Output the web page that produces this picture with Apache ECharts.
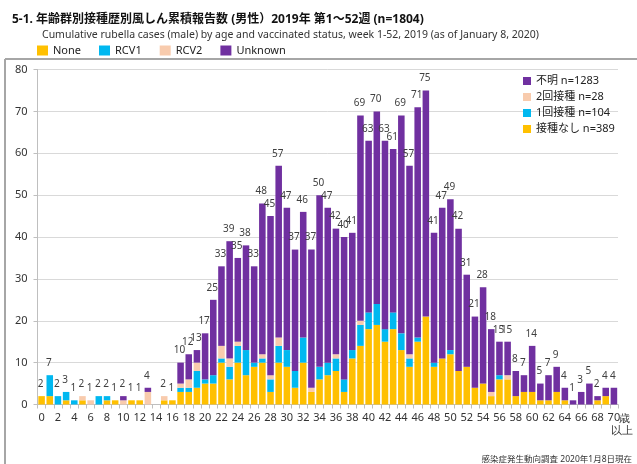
<!DOCTYPE html>
<html>
<head>
<meta charset="utf-8">
<script src="https://cdn.jsdelivr.net/npm/echarts@6/dist/echarts.min.js"></script>
<style>
html,body{margin:0;padding:0;background:#fff;}
#c{width:637px;height:464px;}
</style>
</head>
<body>
<div id="c"></div>
<script>
const ages = ['0','1','2','3','4','5','6','7','8','9','10','11','12','13','14','15','16','17','18','19',
  '20','21','22','23','24','25','26','27','28','29','30','31','32','33','34','35','36','37','38','39',
  '40','41','42','43','44','45','46','47','48','49','50','51','52','53','54','55','56','57','58','59',
  '60','61','62','63','64','65','66','67','68','69','70歳以上'];

const noneVals = [2,2,0,1,0,1,0,0,1,1,0,1,1,0,0,1,1,3,3,4,
  5,5,10,6,10,7,9,10,3,10,9,4,10,3,6,7,8,3,11,14,
  18,19,15,18,13,9,15,21,9,11,12,8,9,4,5,2,6,6,2,3,
  3,1,1,3,1,0,0,0,1,2,0];
const rcv1Vals = [0,5,2,2,1,0,0,2,1,0,0,0,0,0,0,0,0,1,1,4,
  1,2,1,3,4,6,1,1,3,4,4,4,6,0,3,3,3,3,2,5,
  4,5,3,4,4,2,1,0,1,0,1,0,0,0,0,0,1,0,0,0,
  0,0,0,0,0,0,0,0,0,0,0];
const rcv2Vals = [0,0,0,0,0,1,1,0,0,0,1,0,0,3,0,1,0,1,2,2,
  0,0,3,2,1,0,0,1,1,2,0,0,0,1,0,0,1,0,0,1,
  0,0,0,0,0,1,0,0,0,0,0,0,0,0,0,1,0,1,0,0,
  0,0,0,0,0,0,0,0,0,0,0];
const unknownVals = [0,0,0,0,0,0,0,0,0,0,1,0,0,1,0,0,0,5,6,3,
  11,18,19,28,20,25,23,36,38,41,34,29,30,33,41,37,30,34,28,49,
  41,46,45,39,52,45,55,54,31,36,36,34,22,17,23,15,8,8,6,4,
  11,4,6,6,3,1,3,5,1,2,4];

const seriesNames = ['None','RCV1','RCV2','Unknown'];
const jpNames = ['接種なし','1回接種','2回接種','不明'];
const colors = ['#FFC000','#00B8F0','#F8CBAD','#7030A0'];
const yTicks = [0,10,20,30,40,50,60,70,80];

const sum = a => a.reduce((s,v)=>s+v,0);
const totals = ages.map((_,i)=>noneVals[i]+rcv1Vals[i]+rcv2Vals[i]+unknownVals[i]);
const allData = [noneVals, rcv1Vals, rcv2Vals, unknownVals];
const jpLabels = jpNames.map((n,i)=> n + ' n=' + sum(allData[i]));

const FONT = '"Noto Sans", "Noto Sans CJK JP", sans-serif';

const chart = echarts.init(document.getElementById('c'), null, {renderer:'canvas'});

const series = allData.map((d,i)=>({
  name: seriesNames[i],
  type: 'bar',
  stack: 'total',
  data: d,
  barCategoryGap: '20%',
  itemStyle: {color: colors[i]},
  emphasis: {disabled: true},
  label: i === 3 ? {
    show: true,
    position: 'top',
    distance: 7,
    offset: [-1, 0],
    fontSize: 10,
    fontFamily: FONT,
    color: '#404040',
    formatter: p => totals[p.dataIndex] ? String(totals[p.dataIndex]) : ''
  } : {show:false}
}));
jpLabels.forEach((n,i)=>{
  series.push({name: n, type:'bar', stack:'total', data: [], itemStyle:{color: colors[i]}});
});

chart.setOption({
  animation: false,
  backgroundColor: '#fff',
  textStyle: {fontFamily: FONT},
  title: [{
    text: '5-1. 年齢群別接種歴別風しん累積報告数 (男性）2019年 第1～52週 (n=1804)',
    left: 7, top: 9,
    textStyle: {fontSize: 12, fontWeight: 'bold', color: '#111', fontFamily: FONT}
  },{
    text: 'Cumulative rubella cases (male) by age and vaccinated status, week 1-52, 2019 (as of January 8, 2020)',
    left: 37, top: 25,
    textStyle: {fontSize: 10.5, fontWeight: 'normal', color: '#333', fontFamily: FONT}
  },{
    text: '感染症発生動向調査 2020年1月8日現在',
    right: 0, top: 450,
    textStyle: {fontSize: 8.5, fontWeight: 'normal', color: '#333', fontFamily: FONT}
  }],
  legend: [{
    data: seriesNames,
    left: 37, top: 45, padding: 0,
    itemWidth: 11, itemHeight: 10, itemGap: 18,
    icon: 'rect',
    selectedMode: false,
    textStyle: {fontSize: 11, color: '#222', fontFamily: FONT}
  },{
    data: jpLabels.slice().reverse(),
    orient: 'vertical',
    left: 523, top: 74, padding: 0,
    itemWidth: 8, itemHeight: 8, itemGap: 2,
    icon: 'rect',
    selectedMode: false,
    textStyle: {fontSize: 11, color: '#222', lineHeight: 14, fontFamily: FONT}
  }],
  grid: {left: 37.5, right: 19, top: 69.5, bottom: 59.5, containLabel: false},
  xAxis: {
    type: 'category',
    data: ages,
    axisLine: {lineStyle: {color: '#bfbfbf', width: 1}},
    axisTick: {show: true, interval: 0, length: 4, lineStyle: {color: '#bfbfbf'}},
    axisLabel: {
      interval: 1, margin: 8, fontSize: 11, color: '#333', fontFamily: FONT,
      formatter: v => v === '70歳以上' ? '70' : v
    }
  },
  yAxis: {
    type: 'value',
    min: yTicks[0], max: yTicks[yTicks.length-1], interval: 10,
    axisLine: {show: true, lineStyle: {color: '#bfbfbf'}},
    axisTick: {show: true, length: 4, lineStyle: {color: '#bfbfbf'}},
    axisLabel: {margin: 10, fontSize: 11, color: '#333', fontFamily: FONT},
    splitLine: {lineStyle: {color: '#d9d9d9', width: 1}}
  },
  graphic: [
    {type: 'line', shape: {x1: 5, y1: 59, x2: 640, y2: 59}, style: {stroke: '#a6a6a6', lineWidth: 2}, silent: true},
    {type: 'line', shape: {x1: 5, y1: 59, x2: 5, y2: 470}, style: {stroke: '#a6a6a6', lineWidth: 2}, silent: true},
    {type: 'text', left: 619, top: 413, style: {text: '歳', fontSize: 11, fill: '#333', font: '11px ' + FONT}},
    {type: 'text', left: 611, top: 425, style: {text: '以上', fontSize: 11, fill: '#333', font: '11px ' + FONT}}
  ],
  series: series
});
</script>
</body>
</html>
